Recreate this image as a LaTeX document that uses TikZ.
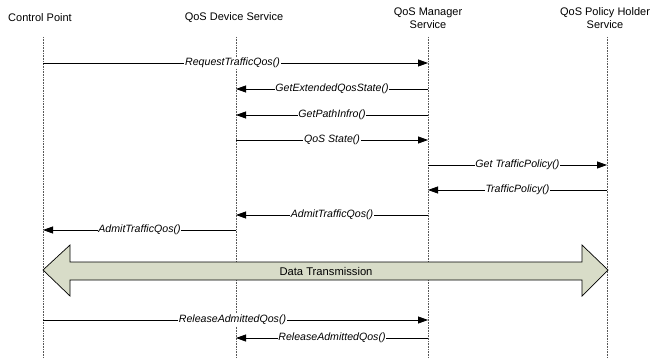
\documentclass[tikz,border=0pt]{standalone}
\usepackage{fontspec}
\setmainfont{Liberation Sans}
\usetikzlibrary{arrows.meta}
\definecolor{dtfill}{RGB}{216,220,200}
\begin{document}
\begin{tikzpicture}[x=1pt,y=-1pt,
  hdr/.style={font=\fontsize{11}{13}\selectfont, align=center},
  life/.style={densely dotted, gray!70!black, line width=0.6pt},
  msg/.style={draw=black, line width=0.8pt, -{Triangle[length=10pt,width=7pt]}},
  lbl/.style={fill=white, inner sep=0.8pt, font=\fontsize{10.6}{12}\selectfont\itshape}]
\useasboundingbox (0,0) rectangle (652,358);
% headers
\node[hdr] (hcp) at (40,18) {Control Point};
\node[hdr] (hds) at (234,18) {QoS Device Service};
\node[hdr] (hms) at (428,18.5) {QoS Manager\\Service};
\node[hdr] (hph) at (605,18.5) {QoS Policy Holder\\Service};
% lifelines
\coordinate (cpT) at (43,37); \coordinate (cpB) at (43,358);
\coordinate (dsT) at (236,37); \coordinate (dsB) at (236,358);
\coordinate (msT) at (428,37); \coordinate (msB) at (428,358);
\coordinate (phT) at (607,37); \coordinate (phB) at (607,358);
\draw[life] (cpT) -- (cpB);
\draw[life] (dsT) -- (dsB);
\draw[life] (msT) -- (msB);
\draw[life] (phT) -- (phB);
% messages
\coordinate (a1) at (43,63);  \coordinate (b1) at (428,63);
\coordinate (a2) at (428,89); \coordinate (b2) at (236,89);
\coordinate (a3) at (428,115); \coordinate (b3) at (236,115);
\coordinate (a4) at (236,140); \coordinate (b4) at (428,140);
\coordinate (a5) at (428,165); \coordinate (b5) at (607,165);
\coordinate (a6) at (607,190); \coordinate (b6) at (428,190);
\coordinate (a7) at (428,215); \coordinate (b7) at (236,215);
\coordinate (a8) at (236,230); \coordinate (b8) at (43,230);
\coordinate (a9) at (43,320); \coordinate (b9) at (428,320);
\coordinate (a10) at (428,338); \coordinate (b10) at (236,338);
\draw[msg] (a1) -- node[lbl,xshift=-3pt]{RequestTrafficQos()} (b1);
\draw[msg] (a2) -- node[lbl]{GetExtendedQosState()} (b2);
\draw[msg] (a3) -- node[lbl]{GetPathInfro()} (b3);
\draw[msg] (a4) -- node[lbl]{QoS State()} (b4);
\draw[msg] (a5) -- node[lbl]{Get TrafficPolicy()} (b5);
\draw[msg] (a6) -- node[lbl]{TrafficPolicy()} (b6);
\draw[msg] (a7) -- node[lbl]{AdmitTrafficQos()} (b7);
\draw[msg] (a8) -- node[lbl]{AdmitTrafficQos()} (b8);
\draw[msg] (a9) -- node[lbl,xshift=-3pt]{ReleaseAdmittedQos()} (b9);
\draw[msg] (a10) -- node[lbl]{ReleaseAdmittedQos()} (b10);
% data transmission double arrow
\draw[fill=dtfill, line width=0.7pt] (43,270) -- (70,245) -- (70,262) -- (582,262) -- (582,245)
  -- (608,270) -- (582,296) -- (582,280) -- (70,280) -- (70,296) -- cycle;
\node[font=\fontsize{11.2}{13}\selectfont] (dt) at (326,271) {Data Transmission};
\end{tikzpicture}
\end{document}
